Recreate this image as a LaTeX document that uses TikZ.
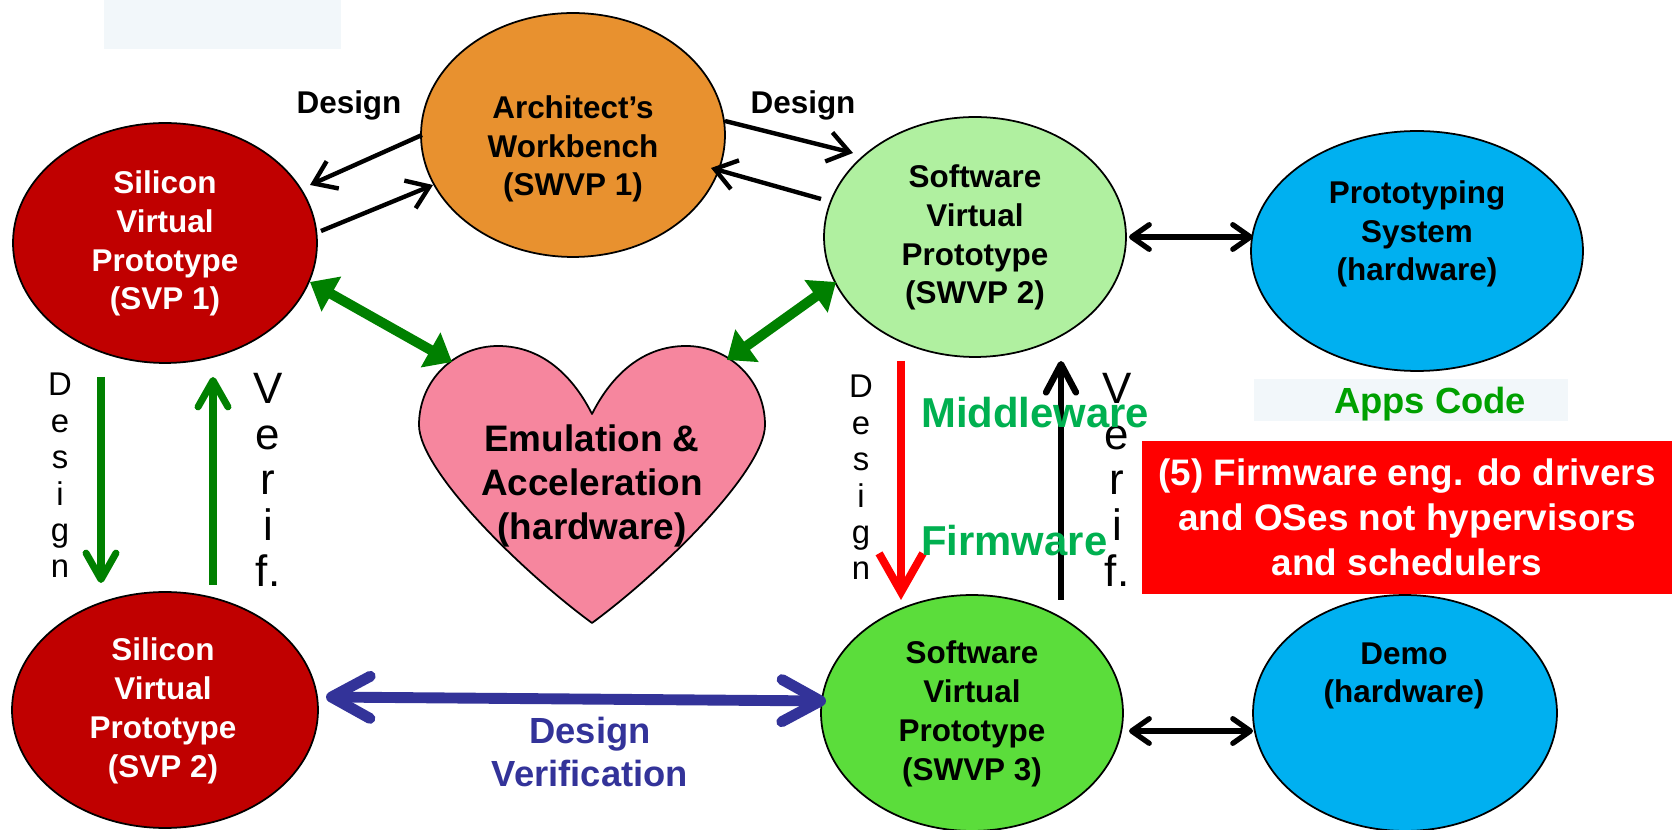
\documentclass[tikz,border=0pt]{standalone}
\usepackage{fontspec}
\setmainfont{Liberation Sans}
\usetikzlibrary{arrows.meta,shapes.geometric,calc}
\definecolor{svpred}{HTML}{C00000}
\definecolor{archor}{HTML}{E8912F}
\definecolor{lgreen}{HTML}{B0F0A0}
\definecolor{bgreen}{HTML}{5BDD3B}
\definecolor{hwblue}{HTML}{00B0F0}
\definecolor{heartpink}{HTML}{F6869E}
\definecolor{darkgreen}{HTML}{008000}
\definecolor{mwgreen}{HTML}{00B050}
\definecolor{appsgreen}{HTML}{00A000}
\definecolor{dvblue}{HTML}{333399}
\definecolor{lightbg}{HTML}{F2F7FA}
\begin{document}
\begin{tikzpicture}[x=0.02cm,y=-0.02cm,
  ell/.style={ellipse, draw=black, line width=1pt, inner sep=0pt},
  ntext/.style={font=\bfseries\fontsize{17.9}{22.1}\selectfont, align=center, inner sep=0pt},
  thinarr/.style={line width=2.5pt, -{Straight Barb[length=12pt,width=17pt]}},
  gthick/.style={draw=darkgreen, line width=5.7pt, {Triangle[length=14pt,width=22pt]}-{Triangle[length=14pt,width=22pt]}},
  gvert/.style={draw=darkgreen, line width=4pt, -{Straight Barb[length=15pt,width=17pt,round]}},
  rarr/.style={draw=red, line width=4.5pt, -{Straight Barb[length=22pt,width=25pt]}},
  barr/.style={draw=black, line width=3.7pt, -{Straight Barb[length=16pt,width=17pt,round]}},
  smallarr/.style={draw=black, line width=3pt, {Straight Barb[length=10pt,width=14pt,round]}-{Straight Barb[length=10pt,width=14pt,round]}},
  blarr/.style={draw=dvblue, line width=6.2pt, {Straight Barb[length=22pt,width=24pt,round]}-{Straight Barb[length=22pt,width=24pt,round]}},
  vdesign/.style={font=\fontsize{18.7}{20.7}\selectfont, align=center, inner sep=0pt, anchor=north},
  vverif/.style={font=\fontsize{25}{26}\selectfont, align=center, inner sep=0pt, anchor=north},
  lbl/.style={font=\bfseries\fontsize{17.9}{22.1}\selectfont, inner sep=0pt}
]
\useasboundingbox (0,0) rectangle (1680,830);

% background boxes
\node[fill=lightbg, inner sep=0pt, minimum width=4.74cm, minimum height=0.98cm] (topbox) at (222.5,24.5) {};
\node[fill=lightbg, inner sep=0pt, minimum width=6.28cm, minimum height=0.84cm] (appsbox) at (1411,400) {};

% ellipses
\node[ell, fill=svpred, minimum width=6.08cm, minimum height=4.8cm] (svp1) at (165,243) {};
\node[ell, fill=archor, minimum width=6.08cm, minimum height=4.88cm] (arch) at (573,135) {};
\node[ell, fill=lgreen, minimum width=6.04cm, minimum height=4.8cm] (swvp2) at (975,237) {};
\node[ell, fill=hwblue, minimum width=6.64cm, minimum height=4.8cm] (proto) at (1417,251) {};
\node[ell, fill=svpred, minimum width=6.12cm, minimum height=4.72cm] (svp2) at (165,710) {};
\node[ell, fill=bgreen, minimum width=6.04cm, minimum height=4.72cm] (swvp3) at (972,713) {};
\node[ell, fill=hwblue, minimum width=6.08cm, minimum height=4.72cm] (demo) at (1405,713) {};

% heart
\draw[fill=heartpink, line width=1pt, line join=round]
  (592,414) .. controls (575,380) and (545,346) .. (498,346)
  .. controls (455,346) and (419,380) .. (419,425)
  .. controls (419,470) and (520,570) .. (592,623)
  .. controls (664,570) and (765,470) .. (765,425)
  .. controls (765,380) and (729,346) .. (686,346)
  .. controls (639,346) and (609,380) .. (592,414) -- cycle;

% ellipse texts
\node[ntext, text=white] (svp1t) at (165,243.5) {Silicon\\Virtual\\Prototype\\(SVP 1)};
\node[ntext] (archt) at (573,149) {Architect’s\\Workbench\\(SWVP 1)};
\node[ntext] (swvp2t) at (975,237.5) {Software\\Virtual\\Prototype\\(SWVP 2)};
\node[ntext] (protot) at (1417,234) {Prototyping\\System\\(hardware)};
\node[ntext, text=white] (svp2t) at (163,711) {Silicon\\Virtual\\Prototype\\(SVP 2)};
\node[ntext] (swvp3t) at (972,714) {Software\\Virtual\\Prototype\\(SWVP 3)};
\node[ntext] (demot) at (1404,676) {Demo\\(hardware)};
\node[font=\bfseries\fontsize{21}{25.2}\selectfont, align=center, inner sep=0pt] (emu) at (592,486) {Emulation \&\\Acceleration\\(hardware)};

% arrows
\draw[thinarr] ($(arch)+(-151,0)$) -- ($(svp1)+(145,-58)$);
\draw[thinarr] ($(svp1)+(156,-12)$) -- ($(arch)+(-140,50)$);
\draw[thinarr] ($(arch)+(152,-14)$) -- ($(swvp2)+(-122,-84)$);
\draw[thinarr] ($(swvp2)+(-154,-38)$) -- ($(arch)+(138,33)$);

\draw[gthick] ($(svp1)+(145,39)$) -- ($(emu)+(-140,-124)$);
\draw[gthick] ($(swvp2)+(-139,45)$) -- ($(emu)+(135,-126)$);

\draw[gvert] ($(svp1)+(-64,134)$) -- ($(svp2)+(-64,-127)$);
\draw[gvert] ($(svp2)+(48,-125)$) -- ($(svp1)+(48,134)$);

\draw[rarr] ($(swvp2)+(-74,124)$) -- ($(swvp3)+(-71,-113)$);
\draw[barr] ($(swvp3)+(89,-113)$) -- ($(swvp2)+(86,124)$);

\draw[smallarr] ($(swvp2)+(154,0)$) -- ($(proto)+(-164,-14)$);
\draw[smallarr] ($(swvp3)+(157,18)$) -- ($(demo)+(-152,18)$);

\draw[blarr] ($(svp2)+(161,-13)$) -- ($(swvp3)+(-146,-12)$);

% labels
\node[lbl] (dl1) at (349,105) {Design};
\node[lbl] (dl2) at (803,105) {Design};

\node[vdesign] (vd1) at (60,373) {D\\e\\s\\i\\g\\n};
\node[vverif] (vv1) at (268,373) {V\\e\\r\\i\\f.};
\node[vdesign] (vd2) at (861,375) {D\\e\\s\\i\\g\\n};
\node[vverif] (vv2) at (1117,373) {V\\e\\r\\i\\f.};

\node[font=\bfseries\fontsize{23.8}{28}\selectfont, text=mwgreen, inner sep=0pt, anchor=base west] (mw) at (921,428) {Middleware};
\node[font=\bfseries\fontsize{23.8}{28}\selectfont, text=mwgreen, inner sep=0pt, anchor=base west] (fwt) at (921,556) {Firmware};

\node[font=\bfseries\fontsize{20.7}{24}\selectfont, text=appsgreen, inner sep=0pt] (apps) at (1430,404.5) {Apps Code};

\node[fill=red, text=white, font=\bfseries\fontsize{21}{25.5}\selectfont, align=center, inner sep=0pt, minimum width=10.6cm, minimum height=3.06cm] (fw) at (1407,517.5) {(5) Firmware eng. do drivers\\and OSes not hypervisors\\and schedulers};

\node[font=\bfseries\fontsize{20.7}{24.9}\selectfont, text=dvblue, align=center, inner sep=0pt] (dv) at (590,752) {Design\\Verification};
\end{tikzpicture}
\end{document}
